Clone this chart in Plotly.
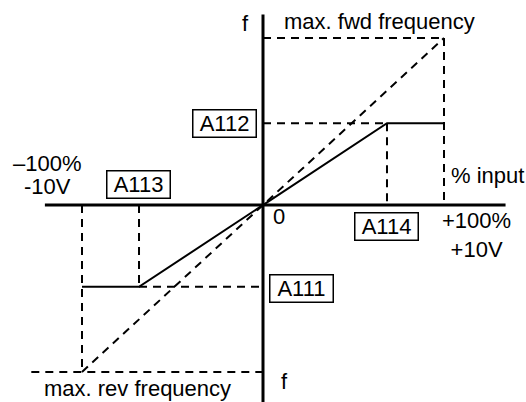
import plotly.graph_objects as go

# % input vs. output frequency (% of max)
input_pct = [-100, -68.5, 68.5, 100]
freq_pct = [-49, -49, 49, 49]
max_pct = [-100, 100]
a113, a114 = -68.5, 68.5
a111, a112 = -49, 49

FONT = "Liberation Sans, Arial, sans-serif"
DASH = "8px,6px"

fig = go.Figure()


def line(x, y, width=2, dash=None):
    fig.add_trace(go.Scatter(x=x, y=y, mode="lines", hoverinfo="skip",
                             line=dict(color="black", width=width, dash=dash)))


# axes
line([-120.5, 134], [0, 0], width=3)
line([0, 0], [-118, 114], width=3)

# guide lines (dashed)
line(max_pct, max_pct, dash=DASH)
line([0, max_pct[1]], [max_pct[1], max_pct[1]], dash=DASH)
line([max_pct[1], max_pct[1]], [max_pct[1], 0], dash=DASH)
line([-128, 0], [max_pct[0], max_pct[0]], dash=DASH)
line([max_pct[0], max_pct[0]], [0, max_pct[0]], dash=DASH)
line([0, a114], [a112, a112], dash=DASH)
line([a114, a114], [a112, 0], dash=DASH)
line([a113, 0], [a111, a111], dash=DASH)
line([a113, a113], [0, a111], dash=DASH)

# characteristic
line(input_pct, freq_pct, width=2)


def label(x, y, text, box=False):
    extra = dict(bordercolor="black", borderwidth=1.5, borderpad=2,
                 bgcolor="white", width=58, height=22) if box else {}
    fig.add_annotation(x=x, y=y, text=text, showarrow=False,
                       font=dict(family=FONT, size=22, color="black"),
                       **extra)


label(-9.9, 108.4, "f")
label(64.6, 109.6, "max. fwd frequency")
label(-21.5, 49, "A112", box=True)
label(-69, 12, "A113", box=True)
label(68.5, -12.6, "A114", box=True)
label(21.5, -49.7, "A111", box=True)
label(8.8, -6.6, "0")
label(118.2, -17.7, "+100%<br>+10V")
label(124.3, 17.4, "% input")
label(-119.3, 24.6, "–100%")
label(-119.3, 10.8, "-10V")
label(-69.6, -110, "max. rev frequency")
label(11.6, -105.4, "f")

fig.update_layout(
    width=526, height=402,
    margin=dict(l=0, r=0, t=0, b=0),
    plot_bgcolor="white", paper_bgcolor="white",
    showlegend=False,
)
fig.update_xaxes(range=[-145.3, 145.3], visible=False)
fig.update_yaxes(range=[-117.96, 122.75], visible=False)

fig.write_html("out.html", config={"displayModeBar": False},
               post_script="document.body.style.margin='0';")
